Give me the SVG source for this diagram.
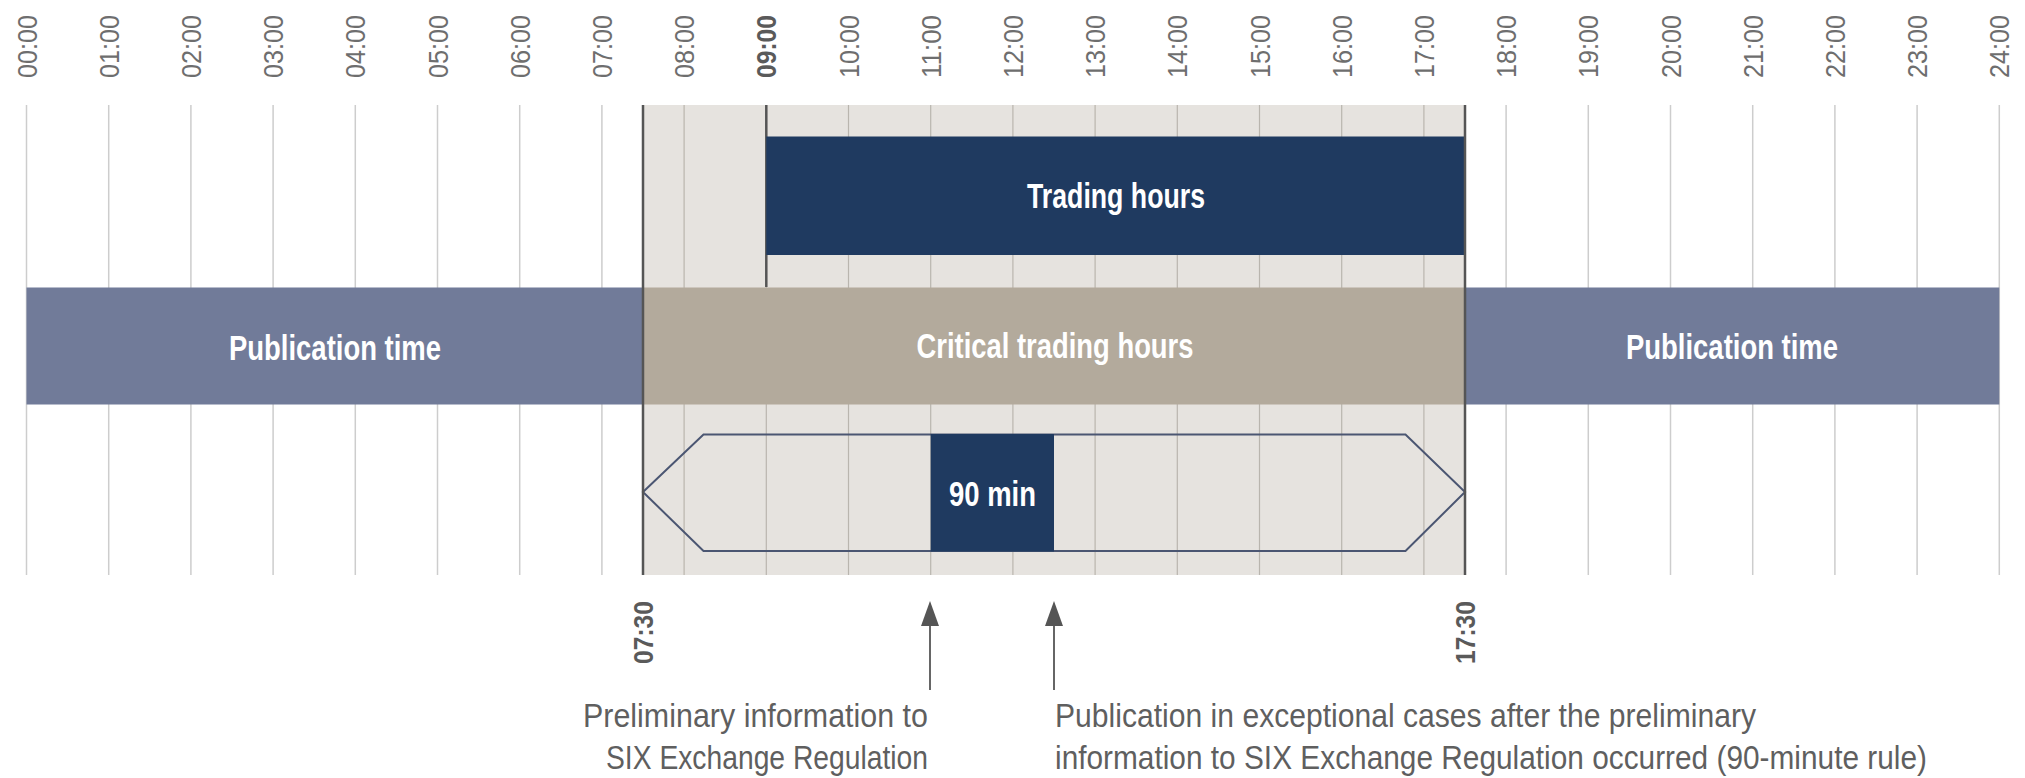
<svg xmlns="http://www.w3.org/2000/svg" width="2025" height="778" viewBox="0 0 2025 778">
<style>
.bg{fill:#ffffff}
.grid{stroke:#cdcdcd;stroke-width:1.5}
.gridin{stroke:#b9b5ae;stroke-width:1.2}
.dark{stroke:#555;stroke-width:2.5}
.hour{font-family:'Liberation Sans Narrow','Liberation Sans',sans-serif;font-stretch:condensed;font-size:28px;fill:#6e6e6e}
.hourb{font-family:'Liberation Sans Narrow','Liberation Sans',sans-serif;font-stretch:condensed;font-size:28px;font-weight:bold;fill:#5a5a5a}
.lbl{font-family:'Liberation Sans Narrow','Liberation Sans',sans-serif;font-stretch:condensed;font-size:35px;font-weight:bold;fill:#ffffff}
.note{font-family:'Liberation Sans Narrow','Liberation Sans',sans-serif;font-stretch:condensed;font-size:33px;fill:#5f5f5f}
.arrowline{stroke:#666;stroke-width:2}
.arrowhead{fill:#555}
</style>
<rect class="bg" x="0" y="0" width="2025" height="778"/>

<g id="critical-zone">
<rect x="643" y="105" width="822" height="470" fill="#e6e3df"/>
</g>

<g id="grid">
<line class="grid" x1="26.5" y1="105" x2="26.5" y2="575"/>
<line class="grid" x1="108.7" y1="105" x2="108.7" y2="575"/>
<line class="grid" x1="190.9" y1="105" x2="190.9" y2="575"/>
<line class="grid" x1="273.1" y1="105" x2="273.1" y2="575"/>
<line class="grid" x1="355.3" y1="105" x2="355.3" y2="575"/>
<line class="grid" x1="437.5" y1="105" x2="437.5" y2="575"/>
<line class="grid" x1="519.7" y1="105" x2="519.7" y2="575"/>
<line class="grid" x1="601.9" y1="105" x2="601.9" y2="575"/>
<line class="gridin" x1="684.1" y1="105" x2="684.1" y2="575"/>
<line class="gridin" x1="766.3" y1="105" x2="766.3" y2="575"/>
<line class="gridin" x1="848.5" y1="105" x2="848.5" y2="575"/>
<line class="gridin" x1="930.7" y1="105" x2="930.7" y2="575"/>
<line class="gridin" x1="1012.9" y1="105" x2="1012.9" y2="575"/>
<line class="gridin" x1="1095.1" y1="105" x2="1095.1" y2="575"/>
<line class="gridin" x1="1177.3" y1="105" x2="1177.3" y2="575"/>
<line class="gridin" x1="1259.5" y1="105" x2="1259.5" y2="575"/>
<line class="gridin" x1="1341.7" y1="105" x2="1341.7" y2="575"/>
<line class="gridin" x1="1423.9" y1="105" x2="1423.9" y2="575"/>
<line class="grid" x1="1506.1" y1="105" x2="1506.1" y2="575"/>
<line class="grid" x1="1588.3" y1="105" x2="1588.3" y2="575"/>
<line class="grid" x1="1670.5" y1="105" x2="1670.5" y2="575"/>
<line class="grid" x1="1752.7" y1="105" x2="1752.7" y2="575"/>
<line class="grid" x1="1834.9" y1="105" x2="1834.9" y2="575"/>
<line class="grid" x1="1917.1" y1="105" x2="1917.1" y2="575"/>
<line class="grid" x1="1999.3" y1="105" x2="1999.3" y2="575"/>
<line class="dark" x1="766.3" y1="105" x2="766.3" y2="287"/>
</g>

<g id="hour-labels">
<text class="hour" transform="translate(36.5,78) rotate(-90)" textLength="63" lengthAdjust="spacingAndGlyphs">00:00</text>
<text class="hour" transform="translate(118.7,78) rotate(-90)" textLength="63" lengthAdjust="spacingAndGlyphs">01:00</text>
<text class="hour" transform="translate(200.9,78) rotate(-90)" textLength="63" lengthAdjust="spacingAndGlyphs">02:00</text>
<text class="hour" transform="translate(283.1,78) rotate(-90)" textLength="63" lengthAdjust="spacingAndGlyphs">03:00</text>
<text class="hour" transform="translate(365.3,78) rotate(-90)" textLength="63" lengthAdjust="spacingAndGlyphs">04:00</text>
<text class="hour" transform="translate(447.5,78) rotate(-90)" textLength="63" lengthAdjust="spacingAndGlyphs">05:00</text>
<text class="hour" transform="translate(529.7,78) rotate(-90)" textLength="63" lengthAdjust="spacingAndGlyphs">06:00</text>
<text class="hour" transform="translate(611.9,78) rotate(-90)" textLength="63" lengthAdjust="spacingAndGlyphs">07:00</text>
<text class="hour" transform="translate(694.1,78) rotate(-90)" textLength="63" lengthAdjust="spacingAndGlyphs">08:00</text>
<text class="hourb" transform="translate(776.3,78) rotate(-90)" textLength="63" lengthAdjust="spacingAndGlyphs">09:00</text>
<text class="hour" transform="translate(858.5,78) rotate(-90)" textLength="63" lengthAdjust="spacingAndGlyphs">10:00</text>
<text class="hour" transform="translate(940.7,78) rotate(-90)" textLength="63" lengthAdjust="spacingAndGlyphs">11:00</text>
<text class="hour" transform="translate(1022.9,78) rotate(-90)" textLength="63" lengthAdjust="spacingAndGlyphs">12:00</text>
<text class="hour" transform="translate(1105.1,78) rotate(-90)" textLength="63" lengthAdjust="spacingAndGlyphs">13:00</text>
<text class="hour" transform="translate(1187.3,78) rotate(-90)" textLength="63" lengthAdjust="spacingAndGlyphs">14:00</text>
<text class="hour" transform="translate(1269.5,78) rotate(-90)" textLength="63" lengthAdjust="spacingAndGlyphs">15:00</text>
<text class="hour" transform="translate(1351.7,78) rotate(-90)" textLength="63" lengthAdjust="spacingAndGlyphs">16:00</text>
<text class="hour" transform="translate(1433.9,78) rotate(-90)" textLength="63" lengthAdjust="spacingAndGlyphs">17:00</text>
<text class="hour" transform="translate(1516.1,78) rotate(-90)" textLength="63" lengthAdjust="spacingAndGlyphs">18:00</text>
<text class="hour" transform="translate(1598.3,78) rotate(-90)" textLength="63" lengthAdjust="spacingAndGlyphs">19:00</text>
<text class="hour" transform="translate(1680.5,78) rotate(-90)" textLength="63" lengthAdjust="spacingAndGlyphs">20:00</text>
<text class="hour" transform="translate(1762.7,78) rotate(-90)" textLength="63" lengthAdjust="spacingAndGlyphs">21:00</text>
<text class="hour" transform="translate(1844.9,78) rotate(-90)" textLength="63" lengthAdjust="spacingAndGlyphs">22:00</text>
<text class="hour" transform="translate(1927.1,78) rotate(-90)" textLength="63" lengthAdjust="spacingAndGlyphs">23:00</text>
<text class="hour" transform="translate(2009.3,78) rotate(-90)" textLength="63" lengthAdjust="spacingAndGlyphs">24:00</text>
</g>

<g id="trading-hours">
<rect x="766.3" y="136.5" width="698.7" height="118.5" fill="#1f3a60"/>
<text class="lbl" x="1116" y="207.5" text-anchor="middle" textLength="178" lengthAdjust="spacingAndGlyphs">Trading hours</text>
</g>

<g id="publication-left">
<rect x="26.5" y="287.5" width="616.5" height="117" fill="#717b99"/>
<text class="lbl" x="335" y="359.5" text-anchor="middle" textLength="212" lengthAdjust="spacingAndGlyphs">Publication time</text>
</g>

<g id="critical-trading-hours">
<rect x="643" y="287.5" width="822" height="117" fill="#b3aa9c"/>
<text class="lbl" x="1055" y="358" text-anchor="middle" textLength="277" lengthAdjust="spacingAndGlyphs">Critical trading hours</text>
</g>

<g id="publication-right">
<rect x="1465" y="287.5" width="534.3" height="117" fill="#717b99"/>
<text class="lbl" x="1732" y="359" text-anchor="middle" textLength="212" lengthAdjust="spacingAndGlyphs">Publication time</text>
</g>

<g id="window">
<polygon points="643,492 703.5,434.5 1405.5,434.5 1465,492 1405.5,551 703.5,551" fill="none" stroke="#4b5672" stroke-width="2"/>
</g>

<g id="ninety-min">
<rect x="930.7" y="434" width="123.3" height="117.5" fill="#1f3a60"/>
<text class="lbl" x="992.5" y="505.5" text-anchor="middle" font-size="33" textLength="87" lengthAdjust="spacingAndGlyphs">90 min</text>
</g>

<g id="bounds">
<line class="dark" x1="643" y1="105" x2="643" y2="575"/>
<line class="dark" x1="1465" y1="105" x2="1465" y2="575"/>
<text class="hourb" transform="translate(653,664) rotate(-90)" textLength="63" lengthAdjust="spacingAndGlyphs">07:30</text>
<text class="hourb" transform="translate(1475,664) rotate(-90)" textLength="63" lengthAdjust="spacingAndGlyphs">17:30</text>
</g>

<g id="connectors">
<line class="arrowline" x1="930" y1="622" x2="930" y2="690"/>
<polygon class="arrowhead" points="921,626 930,601 939,626"/>
<line class="arrowline" x1="1054" y1="622" x2="1054" y2="690"/>
<polygon class="arrowhead" points="1045,626 1054,601 1063,626"/>
</g>

<g id="note-preliminary">
<text class="note" x="928" y="727" text-anchor="end" textLength="345" lengthAdjust="spacingAndGlyphs">Preliminary information to</text>
<text class="note" x="928" y="769" text-anchor="end" textLength="322" lengthAdjust="spacingAndGlyphs">SIX Exchange Regulation</text>
</g>

<g id="note-publication">
<text class="note" x="1055" y="727" textLength="701" lengthAdjust="spacingAndGlyphs">Publication in exceptional cases after the preliminary</text>
<text class="note" x="1055" y="769" textLength="872" lengthAdjust="spacingAndGlyphs">information to SIX Exchange Regulation occurred (90-minute rule)</text>
</g>
</svg>
